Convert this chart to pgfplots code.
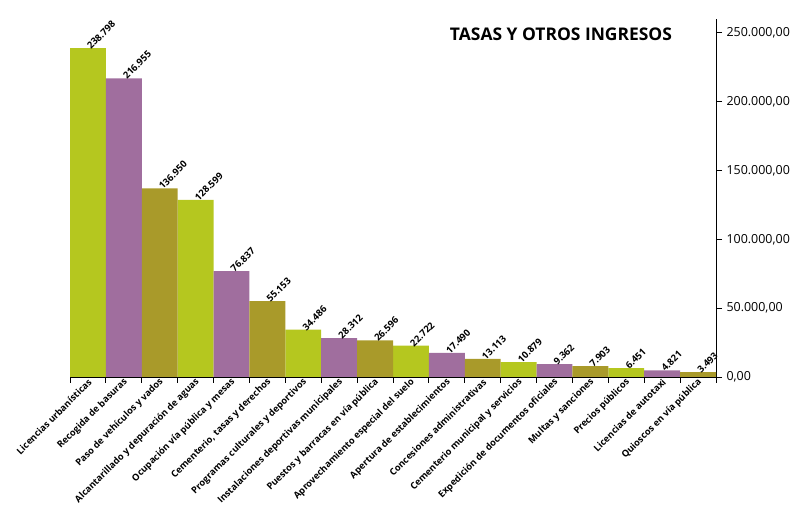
\documentclass[border=0pt]{standalone}
\usepackage{fontspec}
\setmainfont{Open Sans}
\usepackage{pgfplots}
\pgfplotsset{compat=1.18}
\definecolor{cgreen}{HTML}{B5C71F}
\definecolor{cpurple}{HTML}{A06E9E}
\definecolor{colive}{HTML}{A99A2A}
\begin{document}
\begin{tikzpicture}[x=1bp,y=1bp]
\useasboundingbox (0,0) rectangle (796,516);
\begin{axis}[
  at={(70bp,139bp)}, anchor=south west,
  scale only axis, width=646bp, height=358bp,
  xmin=0.5, xmax=18.5, ymin=0, ymax=260000,
  axis x line=bottom, axis y line=right,
  axis line style={-, line width=0.9pt},
  tick align=outside,
  major tick length=6bp,
  tick style={black, line width=0.8pt},
  ytick={0,50000,100000,150000,200000,250000},
  scaled y ticks=false,
  yticklabel style={font=\fontsize{12.5}{14}\selectfont, xshift=1bp,
    /pgf/number format/.cd, fixed, fixed zerofill, precision=2, 1000 sep={.}, dec sep={,}, assume math mode=true},
  xtick={0.5,1.5,...,18.5},
  xticklabels={},
  extra x ticks={1,2,...,18},
  extra x tick style={major tick length=0pt},
  extra x tick labels={Licencias urbanísticas, Recogida de basuras, Paso de vehículos y vados, Alcantarillado y depuración de aguas, Ocupación vía pública y mesas, {Cementerio, tasas y derechos}, Programas culturales y deportivos, Instalaciones deportivas municipales, Puestos y barracas en vía pública, Aprovechamiento especial del suelo, Apertura de establecimientos, Concesiones administrativas, Cementerio municipal y servicios, Expedición de documentos oficiales, Multas y sanciones, Precios públicos, Licencias de autotaxi, Quioscos en vía pública},
  xticklabel style={rotate=45, anchor=east, font=\bfseries\fontsize{9.3}{10}\selectfont, inner sep=1bp, yshift=-4bp},
  nodes near coords,
  every node near coord/.append style={rotate=45, anchor=west, inner sep=1bp, font=\bfseries\fontsize{9.5}{10}\selectfont,
    /pgf/number format/.cd, fixed, precision=0, 1000 sep={.}, assume math mode=true},
  clip=false,
]
\addplot[ybar, bar width=1, bar shift=0pt, fill=cgreen, draw=none] coordinates {(1,238798) (4,128599) (7,34486) (10,22722) (13,10879) (16,6451)};
\addplot[ybar, bar width=1, bar shift=0pt, fill=cpurple, draw=none] coordinates {(2,216955) (5,76837) (8,28312) (11,17490) (14,9362) (17,4821)};
\addplot[ybar, bar width=1, bar shift=0pt, fill=colive, draw=none] coordinates {(3,136950) (6,55153) (9,26596) (12,13113) (15,7903) (18,3493)};
\node[font=\bfseries\fontsize{17.5}{19}\selectfont, anchor=center] at (rel axis cs:0.76,0.958) {TASAS Y OTROS INGRESOS};
\end{axis}
\end{tikzpicture}
\end{document}
